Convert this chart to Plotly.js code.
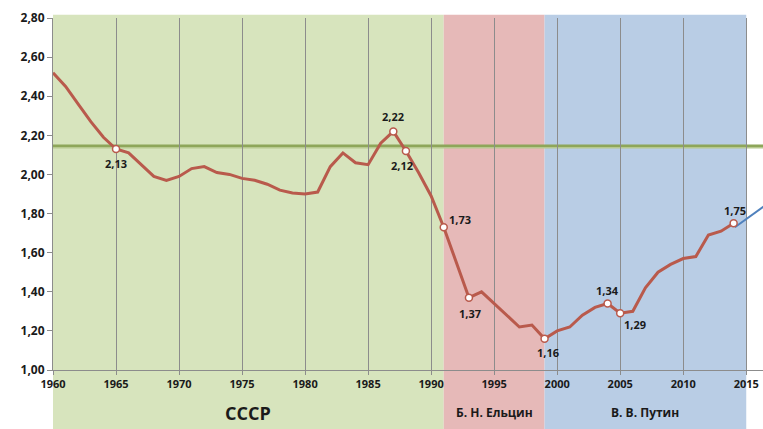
<!DOCTYPE html>
<html>
<head>
<meta charset="utf-8">
<script src="https://cdn.plot.ly/plotly-3.0.1.min.js"></script>
<style>html,body{margin:0;padding:0;background:#fff}#chart{width:763px;height:429px}</style>
</head>
<body>
<div id="chart"></div>
<script>
// ---- data ----
const years = [1960,1961,1962,1963,1964,1965,1966,1967,1968,1969,1970,1971,1972,1973,1974,1975,1976,1977,1978,1979,1980,1981,1982,1983,1984,1985,1986,1987,1988,1989,1990,1991,1992,1993,1994,1995,1996,1997,1998,1999,2000,2001,2002,2003,2004,2005,2006,2007,2008,2009,2010,2011,2012,2013,2014];
const tfr   = [2.52,2.45,2.36,2.27,2.19,2.13,2.11,2.05,1.99,1.97,1.99,2.03,2.04,2.01,2.00,1.98,1.97,1.95,1.92,1.905,1.90,1.91,2.04,2.11,2.06,2.05,2.16,2.22,2.12,2.01,1.89,1.73,1.55,1.37,1.40,1.34,1.28,1.22,1.23,1.16,1.20,1.22,1.28,1.32,1.34,1.29,1.30,1.42,1.50,1.54,1.57,1.58,1.69,1.71,1.75];
const trendYears = [2014.1, 2016.8];
const trendValues = [1.73, 1.855];
const labelYears = [1965,1987,1988,1991,1993,1999,2004,2005,2014];
const replacementLevel = 2.147;
const periodNames = ["СССР","Б. Н. Ельцин","В. В. Путин"];
const periodStart = [1960,1991,1999];
const periodEnd   = [1991,1999,2015];
const yTicks = [1.0,1.2,1.4,1.6,1.8,2.0,2.2,2.4,2.6,2.8];
const xTicks = [1960,1965,1970,1975,1980,1985,1990,1995,2000,2005,2010,2015];

// ---- styling ----
const periodColors = ["#d7e4bd","#e6b9b8","#b9cde5"];
const periodFont = [18,12,12];
const lineColor = "#b95a4c";
const FONT = "Open Sans, Liberation Sans, sans-serif";

const labelVals = labelYears.map(y => tfr[years.indexOf(y)]);
const labelShift = {1965:[0,-14],1987:[0,15],1988:[-4,-15],1991:[16,8],1993:[1,-16],1999:[3,-14],2004:[0,13],2005:[15,-11],2014:[1,13]};

const shapes = [];
periodStart.forEach((s,i) => {
  shapes.push({type:"rect", xref:"x", yref:"paper", x0:s, x1:periodEnd[i], y0:-0.17, y1:1.009,
    fillcolor:periodColors[i], line:{width:0}, layer:"below"});
});
shapes.push({type:"line", xref:"paper", yref:"y", x0:0, x1:1, y0:replacementLevel, y1:replacementLevel,
  line:{color:"#8ea65a", width:2.5}, layer:"below"});
shapes.push({type:"line", xref:"paper", yref:"y", x0:0, x1:1, y0:replacementLevel-0.011, y1:replacementLevel-0.011,
  line:{color:"#b7c98f", width:1.5}, layer:"below"});

const annotations = [];
labelYears.forEach((y,i) => {
  const sh = labelShift[y];
  annotations.push({x:y, y:labelVals[i], xref:"x", yref:"y", text:labelVals[i].toFixed(2).replace(".",","),
    showarrow:false, xshift:sh[0], yshift:sh[1], font:{family:FONT, size:11, color:"#1a1a1a", weight:"bold"}});
});
periodNames.forEach((n,i) => {
  annotations.push({x:(periodStart[i]+periodEnd[i])/2, y:-0.122, xref:"x", yref:"paper", yanchor:"middle", xanchor:"center",
    text:"<b>"+n+"</b>", showarrow:false, font:{family:FONT, size:periodFont[i], color:"#1a1a1a"}});
});

const traces = [
  {x:trendYears, y:trendValues, mode:"lines", line:{color:"#4f81bd", width:2}, hoverinfo:"skip"},
  {x:years, y:tfr, mode:"lines", line:{color:lineColor, width:3}, hoverinfo:"skip"},
  {x:labelYears, y:labelVals, mode:"markers", marker:{symbol:"circle", size:7, color:"#ffffff", line:{color:lineColor, width:1.5}}, hoverinfo:"skip"}
];

const layout = {
  width:763, height:429,
  margin:{l:53, r:0, t:18, b:59},
  paper_bgcolor:"#ffffff", plot_bgcolor:"rgba(0,0,0,0)",
  showlegend:false,
  separators:", ",
  font:{family:FONT, color:"#1a1a1a"},
  xaxis:{range:[1960,2016.33], tickvals:xTicks, ticktext:xTicks.map(String), showgrid:true, gridcolor:"#8c8c8c", gridwidth:1,
    zeroline:false, showline:true, linecolor:"#8c8c8c", linewidth:1, ticks:"outside", ticklen:4, tickcolor:"#8c8c8c",
    tickfont:{family:FONT, size:11, color:"#1a1a1a", weight:"bold"}, fixedrange:true},
  yaxis:{range:[1.0,2.8], tickvals:yTicks, tickformat:".2f", showgrid:false, zeroline:false, showline:true,
    linecolor:"#8c8c8c", linewidth:1, ticks:"outside", ticklen:5, tickcolor:"#8c8c8c",
    tickfont:{family:FONT, size:12, color:"#1a1a1a", weight:"bold"}, fixedrange:true},
  shapes:shapes,
  annotations:annotations
};

Plotly.newPlot("chart", traces, layout, {staticPlot:true, displayModeBar:false});
</script>
</body>
</html>
